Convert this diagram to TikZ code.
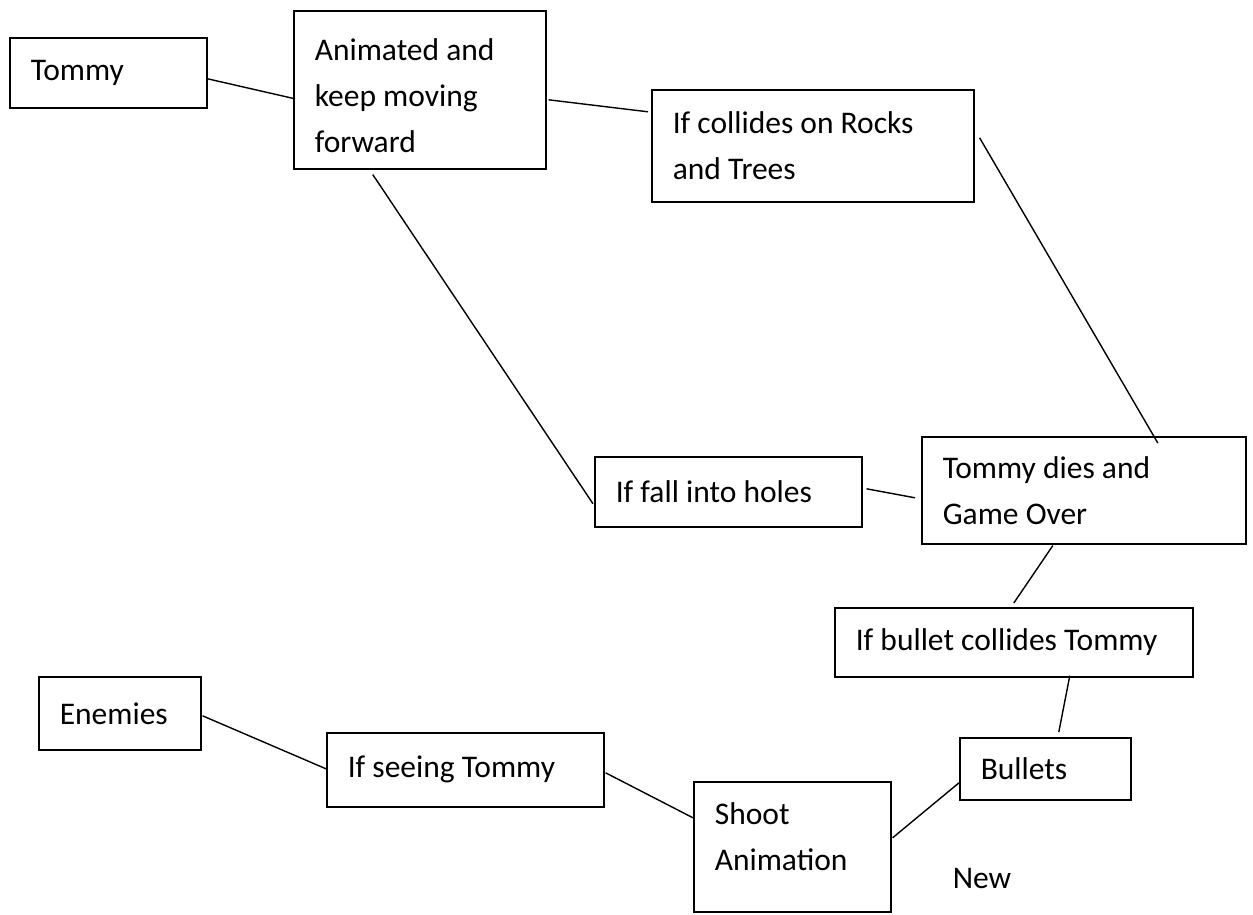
\documentclass[tikz,border=0pt]{standalone}
\usepackage{fontspec}
\setmainfont{Carlito}
\usepackage{tikz}
\tikzstyle{box} = [rectangle, draw, line width=1.6pt, anchor=north west, align=flush left, inner xsep=21pt, inner ysep=0pt, font=\fontsize{31.5pt}{46pt}\selectfont]

\begin{document}
\begin{tikzpicture}[line width=1.4pt]
  \fill[white] (0pt,0pt) rectangle (1253pt,-914pt);
  \useasboundingbox (0pt,0pt) rectangle (1253pt,-914pt);
  \draw (9.0pt,-37.0pt)node[box,text width=155pt,minimum height=70pt](0){Tommy};
  \draw (293.0pt,-10.0pt)node[box,text width=210pt,minimum height=158pt](1){\rule{0pt}{34pt}Animated and\\keep moving\\forward};
  \draw (651.0pt,-89.0pt)node[box,text width=280pt,minimum height=112pt](2){If collides on Rocks\\and Trees};
  \draw (594.0pt,-456.0pt)node[box,text width=225pt,minimum height=70pt](3){If fall into holes};
  \draw (921.0pt,-436.0pt)node[box,text width=282pt,minimum height=107pt](4){Tommy dies and\\Game Over};
  \draw (834.0pt,-607.0pt)node[box,text width=316pt,minimum height=69pt](5){If bullet collides Tommy};
  \draw (38.0pt,-676.0pt)node[box,text width=120pt,minimum height=73pt](6){Enemies};
  \draw (326.0pt,-732.0pt)node[box,text width=235pt,minimum height=74pt](7){If seeing Tommy};
  \draw (959.0pt,-737.0pt)node[box,text width=129pt,minimum height=62pt](8){Bullets};
  \draw (693.0pt,-781.0pt)node[box,text width=155pt,minimum height=130pt](9){Shoot\\Animation\rule[-20pt]{0pt}{0pt}};
  \draw (982.0pt,-878.0pt)node[font=\fontsize{31.5pt}{46pt}\selectfont](10){New};
  \path ([yshift=-6pt]0.east) edge ([shift={(2pt,-9pt)}]1.west);
  \path ([shift={(2pt,-10pt)}]1.east) edge ([shift={(-3pt,34pt)}]2.west);
  \path ([shift={(-47pt,-5pt)}]1.south) edge ([shift={(-1pt,-12pt)}]3.west);
  \path ([shift={(5pt,8pt)}]2.east) edge ([shift={(74pt,-7pt)}]4.north);
  \path ([shift={(4pt,3pt)}]3.east) edge ([shift={(-6pt,-7.5pt)}]4.west);
  \path ([shift={(-31pt,-1pt)}]4.south) edge ([yshift=4pt]5.north);
  \path ([shift={(56pt,2pt)}]5.south) edge ([shift={(13.5pt,5pt)}]8.north);
  \path ([shift={(1pt,-2.5pt)}]6.east) edge ([yshift=1pt]7.west);
  \path ([shift={(1pt,-3pt)}]7.east) edge ([yshift=29pt]9.west);
  \path ([shift={(1pt,9pt)}]9.east) edge ([yshift=-14pt]8.west);
\end{tikzpicture}
\end{document}
